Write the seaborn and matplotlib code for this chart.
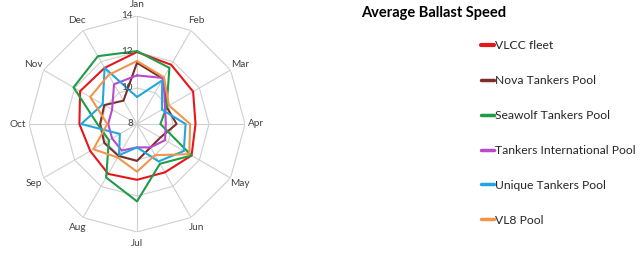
import numpy as np
import pandas as pd
import seaborn as sns
import matplotlib
matplotlib.use("Agg")
import matplotlib.pyplot as plt
from matplotlib import transforms

months = ["Jan", "Feb", "Mar", "Apr", "May", "Jun", "Jul", "Aug", "Sep", "Oct", "Nov", "Dec"]
vlcc_fleet = [12.0, 11.8, 11.6, 11.25, 11.5, 11.1, 11.1, 11.2, 11.0, 11.2, 11.65, 11.6]
nova_tankers = [11.4, 10.9, 9.9, 10.2, 9.5, 9.5, 10.05, 10.05, 10.1, 10.05, 10.1, 9.5]
seawolf_tankers = [12.05, 11.6, 9.9, 9.3, 11.5, 10.55, 12.3, 11.43, 9.8, 10.2, 12.07, 12.35]
tankers_international = [10.7, 10.95, 9.8, 9.6, 9.8, 9.5, 9.3, 9.7, 9.6, 9.6, 9.6, 10.55]
unique_tankers = [9.5, 10.8, 9.6, 10.7, 11.0, 10.4, 9.3, 10.0, 9.1, 11.1, 10.2, 11.6]
vl8_pool = [11.5, 11.0, 10.05, 10.95, 11.35, 10.0, 10.65, 10.15, 10.8, 9.65, 11.0, 11.15]
series_names = ["VLCC fleet", "Nova Tankers Pool", "Seawolf Tankers Pool",
                "Tankers International Pool", "Unique Tankers Pool", "VL8 Pool"]
series_values = [vlcc_fleet, nova_tankers, seawolf_tankers,
                 tankers_international, unique_tankers, vl8_pool]
r_ticks = [8, 10, 12, 14]
title = "Average Ballast Speed"

colors = ["#E5161C", "#7D2E2B", "#1E9D48", "#B84ACF", "#21A6DF", "#F1954B"]
widths = [2.4, 1.9, 1.9, 1.9, 1.9, 1.9]

sns.set_theme(style="white")
plt.rcParams["font.family"] = ["Lato", "DejaVu Sans"]

n = len(months)
theta = np.arange(n) * 2 * np.pi / n
rows = []
for name, vals in zip(series_names, series_values):
    for i in range(n + 1):
        rows.append({"series": name, "order": i, "theta": theta[i % n] if i < n else 2 * np.pi,
                     "value": vals[i % n]})
df = pd.DataFrame(rows)

fig = plt.figure(figsize=(6.4, 2.54), dpi=100)
ax = fig.add_axes([137 / 640 - 0.3375 / 2, (254 - 232) / 254, 0.3375, 216 / 254], projection="polar")
ax.set_theta_zero_location("N")
ax.set_theta_direction(-1)
ax.set_ylim(r_ticks[0], r_ticks[-1])
ax.grid(False)
ax.spines["polar"].set_visible(False)
ax.set_xticks([])
ax.set_yticks([])

grid_c = "#CFCFCF"
closed = np.append(theta, 2 * np.pi)
for rv in r_ticks[1:]:
    ax.plot(closed, [rv] * (n + 1), color=grid_c, lw=0.8, zorder=1)
for t in theta:
    ax.plot([t, t], [r_ticks[0], r_ticks[-1]], color=grid_c, lw=0.8, zorder=1)

sns.lineplot(data=df, x="theta", y="value", hue="series", units="series", estimator=None,
             sort=False, palette=dict(zip(series_names, colors)), hue_order=series_names,
             ax=ax, legend=True, zorder=3)
for line, w in zip(ax.get_lines()[-len(series_names):], widths):
    line.set_linewidth(w)
ax.set_xlabel("")
ax.set_ylabel("")

for t, m in zip(theta, months):
    ax.text(t, 14.62, m, ha="center", va="center", fontsize=7.2, color="#404040")
off = transforms.offset_copy(ax.transData, fig=fig, x=-3, y=0, units="points")
for rv in r_ticks:
    ax.text(0, rv, str(rv), ha="right", va="center", fontsize=7.2, color="#404040", transform=off)

handles, labels = ax.get_legend_handles_labels()
ax.get_legend().remove()
for h, w in zip(handles, widths):
    h.set_linewidth(w + 0.6)
fig.legend(handles, labels, loc="upper left", bbox_to_anchor=(481 / 640, 1 - 40 / 254),
           frameon=False, fontsize=8.7, handlelength=1.05, handletextpad=0.1,
           labelspacing=1.98, borderpad=0, borderaxespad=0)

fig.text(434 / 640, 1 - 13 / 254, title, ha="center", va="center", fontsize=10.5,
         fontweight="bold", color="#000000")

fig.savefig("out.png", dpi=100)
